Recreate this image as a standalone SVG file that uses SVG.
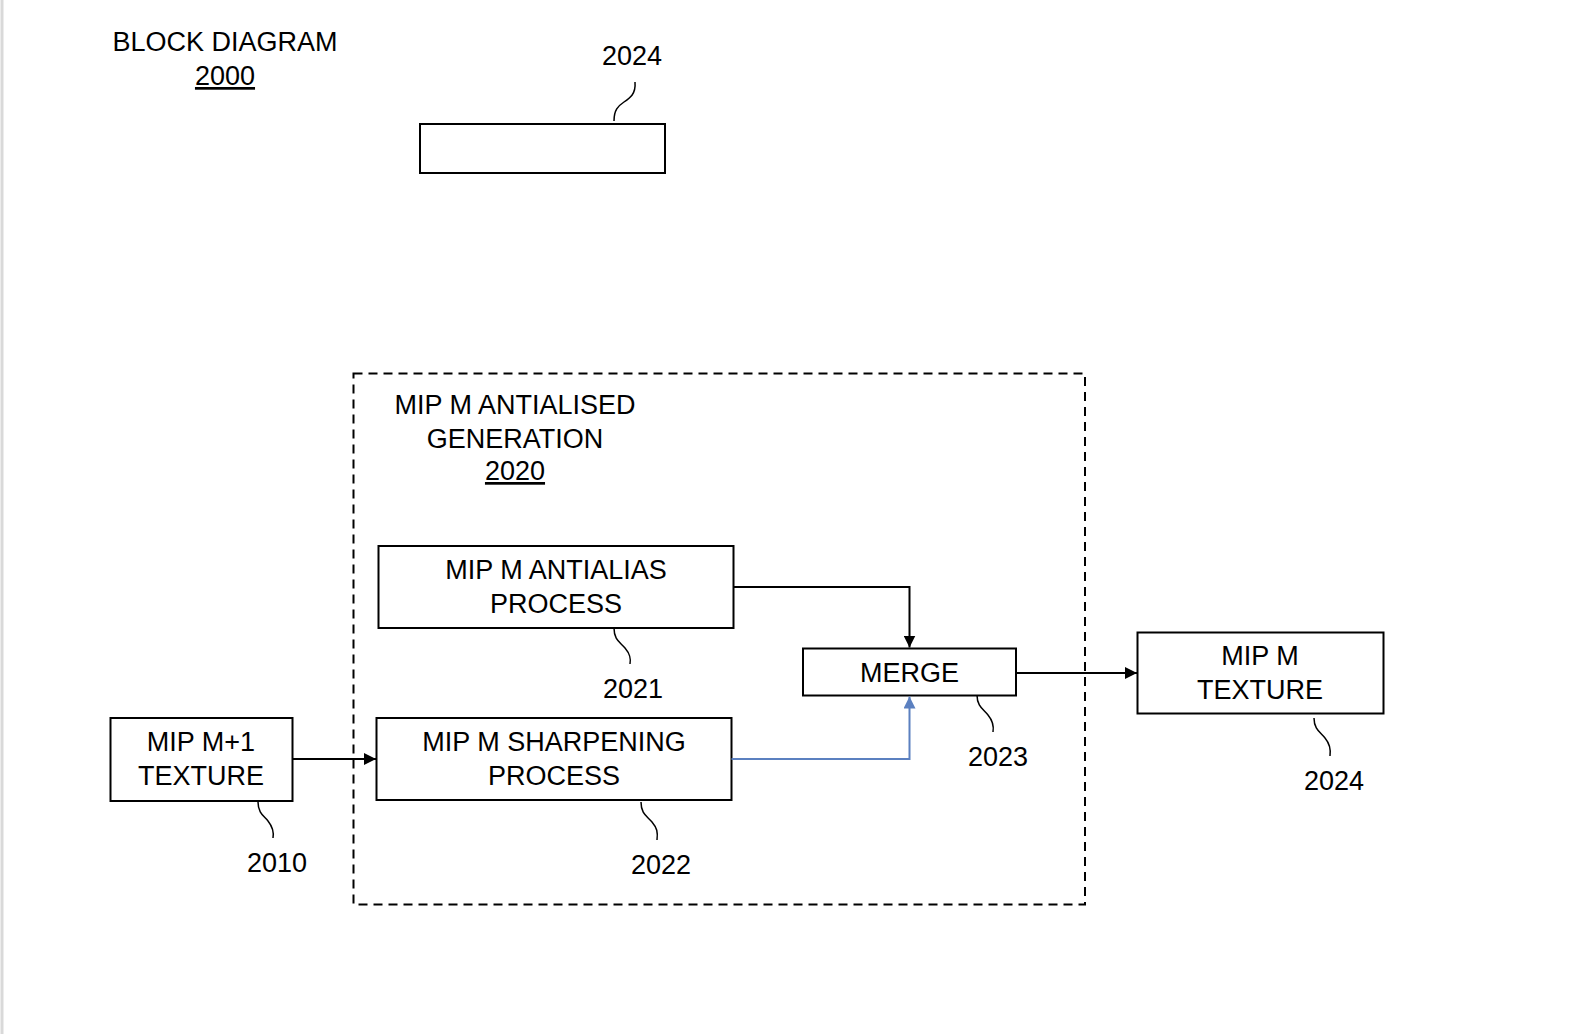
<svg xmlns="http://www.w3.org/2000/svg" width="1574" height="1034" viewBox="0 0 1574 1034">
<defs>
<marker id="ah" viewBox="0 0 10 10" refX="10" refY="5" markerWidth="12" markerHeight="12" markerUnits="userSpaceOnUse" orient="auto"><path d="M0 0 L10 5 L0 10 Z" fill="#000"/></marker>
<marker id="ahb" viewBox="0 0 10 10" refX="10" refY="5" markerWidth="12" markerHeight="12" markerUnits="userSpaceOnUse" orient="auto"><path d="M0 0 L10 5 L0 10 Z" fill="#5b80c0"/></marker>
<style>
text{font-family:"Liberation Sans",Arial,sans-serif;font-size:27px;fill:#000;text-anchor:middle}
.box{fill:#fff;stroke:#000;stroke-width:2}
.ld{fill:none;stroke:#000;stroke-width:1.5}
.c{fill:none;stroke:#000;stroke-width:2}
.u{text-decoration:underline}
</style>
</defs>
<rect x="0" y="0" width="1574" height="1034" fill="#fff"/>
<line x1="2" y1="0" x2="2" y2="1034" stroke="#d9d9d9" stroke-width="3"/>

<g id="title">
<text x="225" y="51">BLOCK DIAGRAM</text>
<text x="225" y="85" class="u">2000</text>
</g>

<g id="box-2024-top">
<rect class="box" x="420" y="124" width="245" height="49"/>
<path class="ld" d="M614 121 C614 110 618 106 624 102 S636 94 635 82"/>
<text x="632" y="65">2024</text>
</g>

<g id="group-2020">
<rect x="353.5" y="373.5" width="731.5" height="531" fill="none" stroke="#000" stroke-width="2" stroke-dasharray="9 6"/>
<text x="515" y="414">MIP M ANTIALISED</text>
<text x="515" y="448">GENERATION</text>
<text x="515" y="480" class="u">2020</text>
</g>

<g id="antialias-2021">
<rect class="box" x="378.5" y="546" width="355" height="82"/>
<text x="556" y="579">MIP M ANTIALIAS</text>
<text x="556" y="613">PROCESS</text>
<path class="ld" d="M614 628 C614 640 620 642 625 648 S631 658 630 664"/>
<text x="633" y="698">2021</text>
</g>

<g id="sharpening-2022">
<rect class="box" x="376.5" y="718" width="355" height="82"/>
<text x="554" y="751">MIP M SHARPENING</text>
<text x="554" y="785">PROCESS</text>
<path class="ld" d="M641 802 C641 814 647 816 652 822 S658 832 657 840"/>
<text x="661" y="874">2022</text>
</g>

<g id="merge-2023">
<rect class="box" x="803" y="648.5" width="213" height="47"/>
<text x="909.5" y="682">MERGE</text>
<path class="ld" d="M977 695 C977 706 983 709 988 715 S994 726 993 732"/>
<text x="998" y="766">2023</text>
</g>

<g id="texture-2024">
<rect class="box" x="1137.5" y="632.5" width="246" height="81"/>
<text x="1260" y="665">MIP M</text>
<text x="1260" y="699">TEXTURE</text>
<path class="ld" d="M1314 718 C1314 729 1320 732 1325 738 S1331 749 1330 756"/>
<text x="1334" y="790">2024</text>
</g>

<g id="texture-2010">
<rect class="box" x="110.5" y="718" width="182" height="83"/>
<text x="201" y="751">MIP M+1</text>
<text x="201" y="785">TEXTURE</text>
<path class="ld" d="M258 802 C258 813 264 816 268 821 S274 832 273 838"/>
<text x="277" y="872">2010</text>
</g>

<g id="connectors">
<path class="c" d="M292.5 759 L376 759" marker-end="url(#ah)"/>
<path class="c" d="M733.5 587 L909.5 587 L909.5 647.5" marker-end="url(#ah)"/>
<path d="M731.5 759 L909.5 759 L909.5 696.5" fill="none" stroke="#5b80c0" stroke-width="2" marker-end="url(#ahb)"/>
<path class="c" d="M1016 673 L1137 673" marker-end="url(#ah)"/>
</g>
</svg>
